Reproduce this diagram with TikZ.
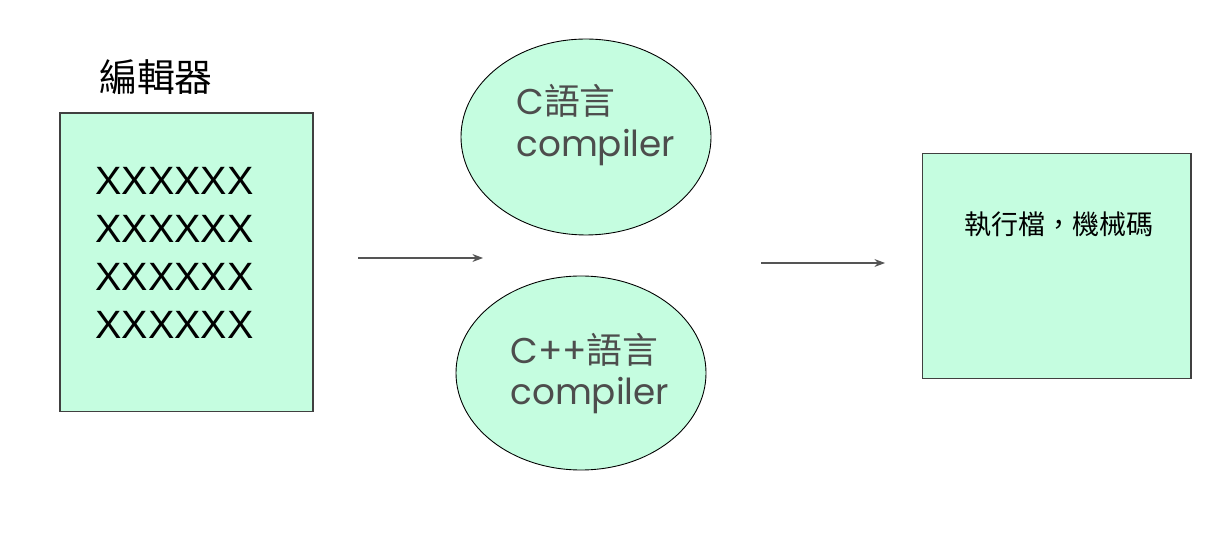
\documentclass[tikz,border=0pt]{standalone}
\usepackage{fontspec}
\setmainfont{Liberation Sans}
\newfontfamily\cjk{Noto Sans CJK TC}
\newfontfamily\geo{Poppins}
\usetikzlibrary{shapes.geometric,arrows.meta}
\definecolor{mint}{HTML}{C5FDE0}
\definecolor{txtgray}{HTML}{4D4D4D}
\definecolor{arrgray}{HTML}{555555}
\tikzset{
  box/.style={draw=black!75,line width=0.6pt,fill=mint,inner sep=0pt},
  oval/.style={ellipse,draw=black,line width=0.5pt,fill=mint,inner sep=0pt},
  lbl/.style={inner sep=0pt,anchor=base west},
  flow/.style={draw=arrgray,line width=0.6pt,-{Stealth[length=6pt,width=4.5pt]}}
}
\begin{document}
\begin{tikzpicture}[x=0.567pt,y=-0.567pt]
\useasboundingbox (0,0) rectangle (1215,558);
% left editor box
\node[box,minimum width=143.45pt,minimum height=169.5pt] (ed) at (186.5,262.5) {};
\node[lbl,anchor=base] (edt) at (156,92) {\cjk\fontsize{21.5}{24}\selectfont 編輯器};
\node[inner sep=0pt,anchor=north west,align=left,font=\fontsize{22.4}{27.2}\selectfont] (xs) at (95,167)
  {XXXXXX\\XXXXXX\\XXXXXX\\XXXXXX};
% compilers
\node[oval,minimum width=141.75pt,minimum height=111.1pt] (c1) at (586,137) {};
\node[oval,minimum width=141.75pt,minimum height=110pt] (c2) at (581,373) {};
\node[lbl,text=txtgray] (c1a) at (516,115) {\geo\fontsize{20.3}{24}\selectfont C\cjk 語言};
\node[lbl,text=txtgray] (c1b) at (516,157) {\geo\fontsize{20.3}{24}\selectfont compiler};
\node[lbl,text=txtgray] (c2a) at (510,364) {\geo\fontsize{20.3}{24}\selectfont C++\cjk 語言};
\node[lbl,text=txtgray] (c2b) at (510,405) {\geo\fontsize{20.3}{24}\selectfont compiler};
% output box
\node[box,minimum width=152.5pt,minimum height=128.1pt] (out) at (1056.5,266) {};
\node[inner sep=0pt] (outt) at (1059,224) {\cjk\fontsize{15.3}{18}\selectfont 執行檔，機械碼};
% arrows
\coordinate (a1s) at (358,258);
\coordinate (a1e) at (483,258);
\coordinate (a2s) at (761,263);
\coordinate (a2e) at (885,263);
\draw[flow] (a1s) -- (a1e);
\draw[flow] (a2s) -- (a2e);
\end{tikzpicture}
\end{document}
